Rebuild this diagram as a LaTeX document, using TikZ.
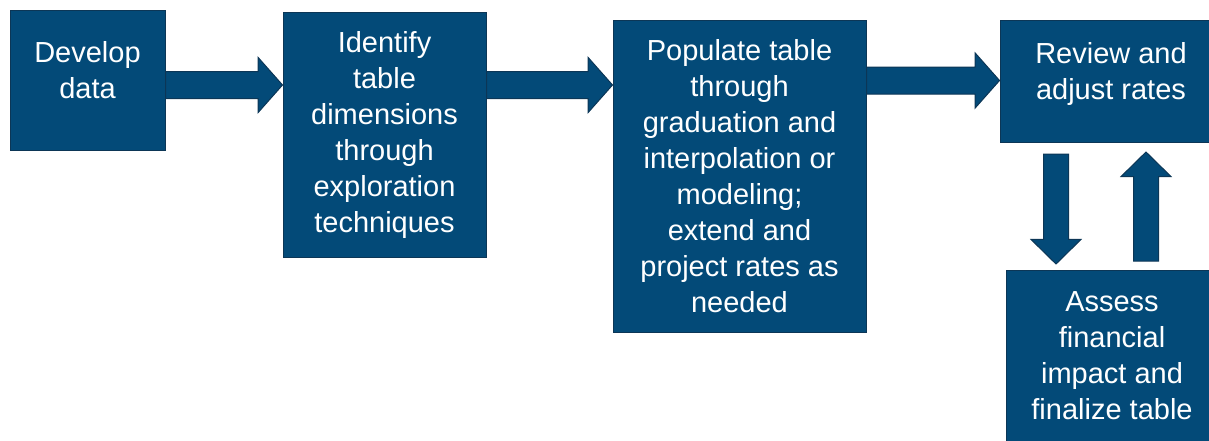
\documentclass[tikz,border=0pt]{standalone}
\usepackage{fontspec}
\setmainfont{Liberation Sans}
\usetikzlibrary{shapes,arrows,calc}
\definecolor{boxblue}{RGB}{3,74,120}
\definecolor{boxedge}{RGB}{12,54,86}
\tikzstyle{block} = [draw=boxedge, fill=boxblue, rectangle, line width=1pt,
    text=white, align=center, font=\fontsize{29}{36}\selectfont, inner sep=0pt]
\tikzstyle{raised} = [text depth=21pt]
\tikzstyle{fat} = [single arrow, draw=boxedge, fill=boxblue, line width=1pt,
    inner xsep=0pt, inner ysep=13pt, single arrow head extend=14pt,
    single arrow tip angle=97, single arrow head indent=0pt, anchor=tail, outer sep=0pt]
\tikzstyle{slim fat} = [fat, inner ysep=12pt, single arrow head extend=12.5pt,
    single arrow tip angle=91]

\begin{document}
\begin{tikzpicture}[x=1pt, y=-1pt]
      \useasboundingbox (0,0) rectangle (1209,440);
      \clip (0,0) rectangle (1209,440);
      % We start by placing the blocks
      \node[block, raised, minimum width=155pt, minimum height=140pt] (develop) at (87.5,80)
          {Develop\\data};
      \node[block, minimum width=203pt, minimum height=245pt] (identify) at (384.5,134.5)
          {Identify\\table\\dimensions\\through\\exploration\\techniques};
      \node[block, minimum width=253pt, minimum height=312pt] (populate) at (739.5,176)
          {Populate table\\through\\graduation and\\interpolation or\\modeling;\\extend and\\project rates as\\needed};
      \node[block, raised, minimum width=222pt, minimum height=122pt] (review) at (1111,81)
          {Review and\\adjust rates};
      \node[block, minimum width=212pt, minimum height=172pt] (assess) at (1112,356)
          {Assess\\financial\\impact and\\finalize table};

      % heights the horizontal arrows run at
      \coordinate (row a) at (0,85);
      \coordinate (row b) at (0,80.5);
      % ends of the pair between review and assess
      \coordinate (down tail) at (1056,154);
      \coordinate (up tail) at (1146,261);

      % forward arrows
      \path let \p1=(develop.east |- row a), \p2=(identify.west) in
          node[fat, minimum height={\x2-\x1}] (develop to identify) at (\p1) {};
      \path let \p1=(identify.east |- row a), \p2=(populate.west) in
          node[fat, minimum height={\x2-\x1}] (identify to populate) at (\p1) {};
      \path let \p1=(populate.east |- row b), \p2=(review.west) in
          node[fat, minimum height={\x2-\x1}] (populate to review) at (\p1) {};

      % loop between review and assess
      \node[slim fat, rotate=-90, minimum height=110pt] (review to assess) at (down tail) {};
      \node[slim fat, rotate=90, minimum height=109pt] (assess to review) at (up tail) {};
\end{tikzpicture}
\end{document}
